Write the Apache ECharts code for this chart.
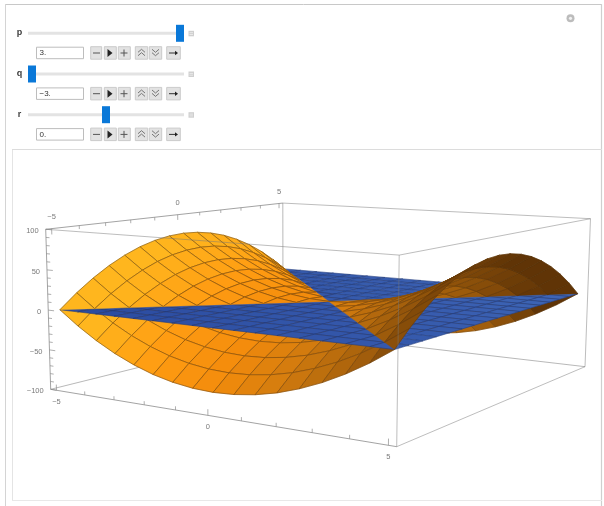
<!DOCTYPE html>
<html>
<head>
<meta charset="utf-8">
<title>Saddle surface</title>
<style>
html, body { margin: 0; padding: 0; background: #fff; }
#chart { width: 604px; height: 506px; }
</style>
<script src="https://cdn.jsdelivr.net/npm/echarts@6/dist/echarts.min.js"></script>
</head>
<body>
<div id="chart"></div>
<script>
// mesh positions along both floor axes
var gridU = [-5, -4.375, -3.75, -3.125, -2.5, -1.875, -1.25, -0.625, 0, 0.625, 1.25, 1.875, 2.5, 3.125, 3.75, 4.375, 5];
var gridV = [-5, -4.375, -3.75, -3.125, -2.5, -1.875, -1.25, -0.625, 0, 0.625, 1.25, 1.875, 2.5, 3.125, 3.75, 4.375, 5];

// orange surface heights, one row per gridV value
var surfaceZ = [
	[0, -17.6, -32.8, -45.7, -56.2, -64.5, -70.3, -73.8, -75, -73.8, -70.3, -64.5, -56.2, -45.7, -32.8, -17.6, 0],
	[17.6, 0, -15.2, -28.1, -38.6, -46.9, -52.7, -56.2, -57.4, -56.2, -52.7, -46.9, -38.6, -28.1, -15.2, 0, 17.6],
	[32.8, 15.2, 0, -12.9, -23.4, -31.7, -37.5, -41, -42.2, -41, -37.5, -31.7, -23.4, -12.9, 0, 15.2, 32.8],
	[45.7, 28.1, 12.9, 0, -10.5, -18.8, -24.6, -28.1, -29.3, -28.1, -24.6, -18.8, -10.5, 0, 12.9, 28.1, 45.7],
	[56.2, 38.6, 23.4, 10.5, 0, -8.3, -14.1, -17.6, -18.8, -17.6, -14.1, -8.3, 0, 10.5, 23.4, 38.6, 56.2],
	[64.5, 46.9, 31.7, 18.8, 8.3, 0, -5.8, -9.3, -10.5, -9.3, -5.8, 0, 8.3, 18.8, 31.7, 46.9, 64.5],
	[70.3, 52.7, 37.5, 24.6, 14.1, 5.8, 0, -3.5, -4.7, -3.5, 0, 5.8, 14.1, 24.6, 37.5, 52.7, 70.3],
	[73.8, 56.2, 41, 28.1, 17.6, 9.3, 3.5, 0, -1.2, 0, 3.5, 9.3, 17.6, 28.1, 41, 56.2, 73.8],
	[75, 57.4, 42.2, 29.3, 18.8, 10.5, 4.7, 1.2, 0, 1.2, 4.7, 10.5, 18.8, 29.3, 42.2, 57.4, 75],
	[73.8, 56.2, 41, 28.1, 17.6, 9.3, 3.5, 0, -1.2, 0, 3.5, 9.3, 17.6, 28.1, 41, 56.2, 73.8],
	[70.3, 52.7, 37.5, 24.6, 14.1, 5.8, 0, -3.5, -4.7, -3.5, 0, 5.8, 14.1, 24.6, 37.5, 52.7, 70.3],
	[64.5, 46.9, 31.7, 18.8, 8.3, 0, -5.8, -9.3, -10.5, -9.3, -5.8, 0, 8.3, 18.8, 31.7, 46.9, 64.5],
	[56.2, 38.6, 23.4, 10.5, 0, -8.3, -14.1, -17.6, -18.8, -17.6, -14.1, -8.3, 0, 10.5, 23.4, 38.6, 56.2],
	[45.7, 28.1, 12.9, 0, -10.5, -18.8, -24.6, -28.1, -29.3, -28.1, -24.6, -18.8, -10.5, 0, 12.9, 28.1, 45.7],
	[32.8, 15.2, 0, -12.9, -23.4, -31.7, -37.5, -41, -42.2, -41, -37.5, -31.7, -23.4, -12.9, 0, 15.2, 32.8],
	[17.6, 0, -15.2, -28.1, -38.6, -46.9, -52.7, -56.2, -57.4, -56.2, -52.7, -46.9, -38.6, -28.1, -15.2, 0, 17.6],
	[0, -17.6, -32.8, -45.7, -56.2, -64.5, -70.3, -73.8, -75, -73.8, -70.3, -64.5, -56.2, -45.7, -32.8, -17.6, 0]
];

// blue plane heights
var planeZ = [
	[0, 0, 0, 0, 0, 0, 0, 0, 0, 0, 0, 0, 0, 0, 0, 0, 0],
	[0, 0, 0, 0, 0, 0, 0, 0, 0, 0, 0, 0, 0, 0, 0, 0, 0],
	[0, 0, 0, 0, 0, 0, 0, 0, 0, 0, 0, 0, 0, 0, 0, 0, 0],
	[0, 0, 0, 0, 0, 0, 0, 0, 0, 0, 0, 0, 0, 0, 0, 0, 0],
	[0, 0, 0, 0, 0, 0, 0, 0, 0, 0, 0, 0, 0, 0, 0, 0, 0],
	[0, 0, 0, 0, 0, 0, 0, 0, 0, 0, 0, 0, 0, 0, 0, 0, 0],
	[0, 0, 0, 0, 0, 0, 0, 0, 0, 0, 0, 0, 0, 0, 0, 0, 0],
	[0, 0, 0, 0, 0, 0, 0, 0, 0, 0, 0, 0, 0, 0, 0, 0, 0],
	[0, 0, 0, 0, 0, 0, 0, 0, 0, 0, 0, 0, 0, 0, 0, 0, 0],
	[0, 0, 0, 0, 0, 0, 0, 0, 0, 0, 0, 0, 0, 0, 0, 0, 0],
	[0, 0, 0, 0, 0, 0, 0, 0, 0, 0, 0, 0, 0, 0, 0, 0, 0],
	[0, 0, 0, 0, 0, 0, 0, 0, 0, 0, 0, 0, 0, 0, 0, 0, 0],
	[0, 0, 0, 0, 0, 0, 0, 0, 0, 0, 0, 0, 0, 0, 0, 0, 0],
	[0, 0, 0, 0, 0, 0, 0, 0, 0, 0, 0, 0, 0, 0, 0, 0, 0],
	[0, 0, 0, 0, 0, 0, 0, 0, 0, 0, 0, 0, 0, 0, 0, 0, 0],
	[0, 0, 0, 0, 0, 0, 0, 0, 0, 0, 0, 0, 0, 0, 0, 0, 0],
	[0, 0, 0, 0, 0, 0, 0, 0, 0, 0, 0, 0, 0, 0, 0, 0, 0]
];

// axis ticks
var uTicks = [-5, -4, -3, -2, -1, 0, 1, 2, 3, 4, 5];
var vTicks = [-5, -4, -3, -2, -1, 0, 1, 2, 3, 4, 5];
var zTicks = [-100, -90, -80, -70, -60, -50, -40, -30, -20, -10, 0, 10, 20, 30, 40, 50, 60, 70, 80, 90, 100];
var floorLabels = [-5, 0, 5];
var zLabels = [-100, -50, 0, 50, 100];

// the three sliders
var controlNames = ['p', 'q', 'r'];
var controlValues = [3, -3, 0];
var controlText = ['3.', '\u22123.', '0.'];
var controlMin = -3;
var controlMax = 3;

// view of the box: image of the corner and of the three box edges, plus perspective terms
var view = {
	origin: [50.7, 389.3],
	ex: [279.6, -17.4],
	ey: [303.1, 25.1],
	ez: [-5.9, -164.6],
	wx: -0.1674,
	wy: 0.2501,
	wz: -0.02
};
var pad = 0.02; // plot range padding on the floor

var orangeRamp = ['#603406', '#a5600c', '#d07a0e', '#f48c0c', '#ff9c12', '#ffb61e'];
var blueRamp = ['#2a4a9f', '#3f66b6'];
var orangeMesh = '#3c2408';
var blueMesh = 'rgba(24,36,80,0.5)';
var uiFont = '"Liberation Sans", Arial, sans-serif';

function boxPoint(X, Y, Z) {
	var w = 1 + view.wx * X + view.wy * Y + view.wz * Z;
	return [
		(view.origin[0] + view.ex[0] * X + view.ey[0] * Y + view.ez[0] * Z) / w,
		(view.origin[1] + view.ex[1] * X + view.ey[1] * Y + view.ez[1] * Z) / w
	];
}
function floorPos(a) {
	return pad + (1 - 2 * pad) * (a + 5) / 10;
}
function heightPos(z) {
	return (z + 100) / 200;
}
function depth(u, v, z) {
	return view.wx * floorPos(u) + view.wy * floorPos(v) + view.wz * heightPos(z);
}

// split the rows into faces, cells crossing the plane are cut along their zero diagonal
function buildFaces(rows, colorOf) {
	var faces = [];
	for (var j = 0; j < gridV.length - 1; j++) {
		for (var i = 0; i < gridU.length - 1; i++) {
			var a = [i, j], b = [i + 1, j], c = [i + 1, j + 1], d = [i, j + 1];
			var at = function(p) { return rows[p[1]][p[0]]; };
			var su = (at(b) + at(c) - at(a) - at(d)) / 2 / (gridU[i + 1] - gridU[i]);
			var sv = (at(c) + at(d) - at(a) - at(b)) / 2 / (gridV[j + 1] - gridV[j]);
			var color = colorOf(gridU[i] + 0.3125, gridV[j] + 0.3125, su, sv);
			var parts;
			if (at(a) === 0 && at(c) === 0 && at(b) !== 0) {
				parts = [{ pts: [a, b, c], line: [c, b, a] }, { pts: [a, d, c], line: [a, d, c] }];
			} else if (at(b) === 0 && at(d) === 0 && at(a) !== 0) {
				parts = [{ pts: [b, c, d], line: [b, c, d] }, { pts: [d, a, b], line: [d, a, b] }];
			} else {
				parts = [{ pts: [a, b, c, d], line: [a, b, c, d, a] }];
			}
			parts.forEach(function(part) {
				var sum = 0, dep = 0;
				part.pts.forEach(function(p) {
					sum += at(p);
					dep += depth(gridU[p[0]], gridV[p[1]], at(p));
				});
				var toXY = function(p) {
					return boxPoint(floorPos(gridU[p[0]]), floorPos(gridV[p[1]]), heightPos(at(p)));
				};
				faces.push({
					poly: part.pts.map(toXY),
					line: part.line.map(toXY),
					color: color,
					level: sum,
					depth: dep / part.pts.length
				});
			});
		}
	}
	// far faces first
	faces.sort(function(f, g) { return g.depth - f.depth; });
	return faces;
}

var orangeFaces = buildFaces(surfaceZ, function(u, v, su, sv) {
	var t = 0.5 - su / 60 + sv / 300;
	return echarts.color.lerp(Math.min(1, Math.max(0, t)), orangeRamp);
});
var blueFaces = buildFaces(planeZ, function(u, v) {
	return echarts.color.lerp((u + v + 10) / 20, blueRamp);
});
var belowFaces = orangeFaces.filter(function(f) { return f.level < 0; });
var aboveFaces = orangeFaces.filter(function(f) { return f.level >= 0; });

function faceSeries(list, z, meshColor, lineWidth) {
	return {
		type: 'custom',
		coordinateSystem: 'cartesian2d',
		z: z,
		silent: true,
		clip: false,
		data: list.map(function(f, k) { return [k]; }),
		renderItem: function(params, api) {
			var f = list[api.value(0)];
			return {
				type: 'group',
				children: [
					{
						type: 'polygon',
						shape: { points: f.poly.map(function(p) { return api.coord(p); }) },
						style: { fill: f.color, stroke: f.color, lineWidth: 0.4 }
					},
					{
						type: 'polyline',
						shape: { points: f.line.map(function(p) { return api.coord(p); }) },
						style: { fill: 'none', stroke: meshColor(f), lineWidth: lineWidth }
					}
				]
			};
		}
	};
}
// mesh lines fade on the dark side of the surface
function orangeLine(f) {
	var red = echarts.color.parse(f.color)[0] / 255;
	return echarts.color.lerp(red * 0.72, [f.color, orangeMesh]);
}
function blueLine() {
	return blueMesh;
}

function lineSeries(segments, z, color, width) {
	return {
		type: 'custom',
		coordinateSystem: 'cartesian2d',
		z: z,
		silent: true,
		clip: false,
		data: segments.map(function(s, k) { return [k]; }),
		renderItem: function(params, api) {
			var s = segments[api.value(0)];
			var p = api.coord(s[0]), q = api.coord(s[1]);
			return {
				type: 'line',
				shape: { x1: p[0], y1: p[1], x2: q[0], y2: q[1] },
				style: { stroke: color, lineWidth: width }
			};
		}
	};
}

function labelSeries(labels, z) {
	return {
		type: 'custom',
		coordinateSystem: 'cartesian2d',
		z: z,
		silent: true,
		clip: false,
		data: labels.map(function(s, k) { return [k]; }),
		renderItem: function(params, api) {
			var s = labels[api.value(0)];
			var p = api.coord(s.at);
			return {
				type: 'text',
				style: {
					text: s.text,
					x: p[0] + s.dx,
					y: p[1] + s.dy,
					fill: '#7a7a7a',
					font: '7.5px ' + uiFont,
					align: s.align,
					verticalAlign: 'middle'
				}
			};
		}
	};
}

function seg(a, b) {
	return [boxPoint(a[0], a[1], a[2]), boxPoint(b[0], b[1], b[2])];
}
function tickText(n) {
	return String(n).replace('-', '\u2212');
}

// edges hidden by the surfaces, then the ones in front of it
var backEdges = [
	seg([0, 1, 0], [0, 1, 1]),
	seg([0, 0, 0], [0, 1, 0]),
	seg([0, 1, 0], [1, 1, 0])
];
var frontEdges = [
	seg([1, 0, 0], [1, 1, 0]),
	seg([1, 0, 0], [1, 0, 1]),
	seg([1, 1, 0], [1, 1, 1]),
	seg([0, 0, 1], [1, 0, 1]),
	seg([1, 0, 1], [1, 1, 1]),
	seg([0, 1, 1], [1, 1, 1])
];
var axisEdges = [
	seg([0, 0, 0], [1, 0, 0]),
	seg([0, 0, 0], [0, 0, 1]),
	seg([0, 0, 1], [0, 1, 1])
];
var tickSegs = [];
uTicks.forEach(function(t) {
	var len = floorLabels.indexOf(t) >= 0 ? 0.036 : 0.022;
	tickSegs.push(seg([floorPos(t), 0, 0], [floorPos(t), 0, len]));
});
vTicks.forEach(function(t) {
	var len = floorLabels.indexOf(t) >= 0 ? 0.036 : 0.022;
	tickSegs.push(seg([0, floorPos(t), 1], [0, floorPos(t), 1 - len]));
});
zTicks.forEach(function(t) {
	var len = zLabels.indexOf(t) >= 0 ? 0.02 : 0.012;
	tickSegs.push(seg([0, 0, heightPos(t)], [len, 0, heightPos(t)]));
});

var axisLabels = [];
floorLabels.forEach(function(t) {
	axisLabels.push({ at: boxPoint(floorPos(t), 0, 0), text: tickText(t), dx: 0, dy: 11.5, align: 'center' });
	axisLabels.push({ at: boxPoint(0, floorPos(t), 1), text: tickText(t), dx: 0, dy: -12, align: 'center' });
});
zLabels.forEach(function(t) {
	axisLabels.push({ at: boxPoint(0, 0, heightPos(t)), text: tickText(t), dx: -7, dy: 2, align: 'right' });
});

// control panel above the plot
function box(x, y, w, h, fill, stroke) {
	return { type: 'rect', shape: { x: x, y: y, width: w, height: h }, style: { fill: fill, stroke: stroke || 'none', lineWidth: 1 } };
}
function hline(x1, y1, x2, y2, color, width) {
	return { type: 'line', shape: { x1: x1, y1: y1, x2: x2, y2: y2 }, style: { stroke: color, lineWidth: width || 1 } };
}
function uiText(text, x, y, size, color, weight, align) {
	return {
		type: 'text',
		style: {
			text: text, x: x, y: y, fill: color,
			font: (weight || 'normal') + ' ' + size + 'px ' + uiFont,
			align: align || 'left', verticalAlign: 'middle'
		}
	};
}
function chevrons(cx, cy, dir) {
	var out = [];
	[-2.2, 1.2].forEach(function(off) {
		var y = cy + off;
		out.push({
			type: 'polyline',
			shape: { points: [[cx - 3.5, y + 1.5 * dir], [cx, y - 1.5 * dir], [cx + 3.5, y + 1.5 * dir]] },
			style: { fill: 'none', stroke: '#5a5a5a', lineWidth: 0.8 }
		});
	});
	return out;
}

var uiParts = [
	hline(5, 4.5, 602, 4.5, '#c8c8c8'),
	hline(5.5, 4, 5.5, 506, '#d4d4d4'),
	hline(601.5, 4, 601.5, 506, '#cfcfcf', 1.2),
	hline(12, 149.5, 602, 149.5, '#dcdcdc'),
	hline(12.5, 150, 12.5, 500.5, '#e4e4e4'),
	hline(12, 500.5, 602, 500.5, '#e8e8e8'),
	{ type: 'circle', shape: { cx: 570.5, cy: 18.3, r: 4 }, style: { fill: '#bcbcbc' } },
	{ type: 'circle', shape: { cx: 570.5, cy: 18.3, r: 1.6 }, style: { fill: '#f0f0f0' } }
];
controlNames.forEach(function(name, k) {
	var dy = k * 40.7;
	var trackY = 33.3 + dy;
	var boxY = 47.2 + dy;
	var thumbX = 28 + (controlValues[k] - controlMin) / (controlMax - controlMin) * 148;
	uiParts.push(uiText(name, 19.5, trackY - 0.5, 9, '#3c3c3c', 'bold', 'center'));
	uiParts.push(box(28, trackY - 1.5, 156, 3, '#e3e3e3'));
	uiParts.push(box(thumbX, trackY - 8.5, 8, 17, '#0a78d8'));
	uiParts.push(box(188.5, trackY - 2.5, 5.5, 5.5, '#cfcfcf'));
	uiParts.push(hline(189.5, trackY - 0.6, 193, trackY - 0.6, '#f4f4f4', 0.7));
	uiParts.push(hline(189.5, trackY + 1.2, 193, trackY + 1.2, '#f4f4f4', 0.7));
	uiParts.push(box(36.5, boxY, 47, 11.5, '#fff', '#bdbdbd'));
	uiParts.push(uiText(controlText[k], 39.5, boxY + 6, 8, '#333'));
	// animation buttons
	[[90.7, 11], [104.3, 12], [118.3, 12], [135.3, 12.4], [149.3, 12.4], [166.7, 13.6]].forEach(function(b) {
		uiParts.push(box(b[0], boxY - 0.5, b[1], 12.5, '#e2e2e2', '#cbcbcb'));
	});
	var midY = boxY + 5.8;
	uiParts.push(hline(93, midY, 100, midY, '#555', 1));
	uiParts.push({ type: 'polygon', shape: { points: [[107.5, midY - 4], [112.5, midY], [107.5, midY + 4]] }, style: { fill: '#222' } });
	uiParts.push(hline(120.5, midY, 127.5, midY, '#555', 1));
	uiParts.push(hline(124, midY - 3.5, 124, midY + 3.5, '#555', 1));
	uiParts = uiParts.concat(chevrons(141.5, midY, 1), chevrons(155.5, midY, -1));
	uiParts.push(hline(169, midY, 176, midY, '#333', 1));
	uiParts.push({ type: 'polygon', shape: { points: [[175, midY - 2.2], [178, midY], [175, midY + 2.2]] }, style: { fill: '#222' } });
});

var myChart = echarts.init(document.getElementById('chart'), null, { renderer: 'canvas' });
myChart.setOption({
	animation: false,
	backgroundColor: '#fff',
	tooltip: { show: false },
	grid: { left: 0, right: 0, top: 0, bottom: 0 },
	xAxis: { type: 'value', min: 0, max: 604, show: false },
	yAxis: { type: 'value', min: 0, max: 506, inverse: true, show: false },
	graphic: { elements: [{ type: 'group', silent: true, children: uiParts }] },
	series: [
		lineSeries(backEdges, 1, '#a6a6a6', 0.8),
		faceSeries(belowFaces, 2, orangeLine, 0.6),
		faceSeries(blueFaces, 3, blueLine, 0.6),
		faceSeries(aboveFaces, 4, orangeLine, 0.6),
		lineSeries(frontEdges, 5, 'rgba(120,120,120,0.62)', 0.8),
		lineSeries(axisEdges, 5, 'rgba(110,110,110,0.8)', 0.8),
		lineSeries(tickSegs, 5, '#8c8c8c', 0.7),
		labelSeries(axisLabels, 6)
	]
});
</script>
</body>
</html>
